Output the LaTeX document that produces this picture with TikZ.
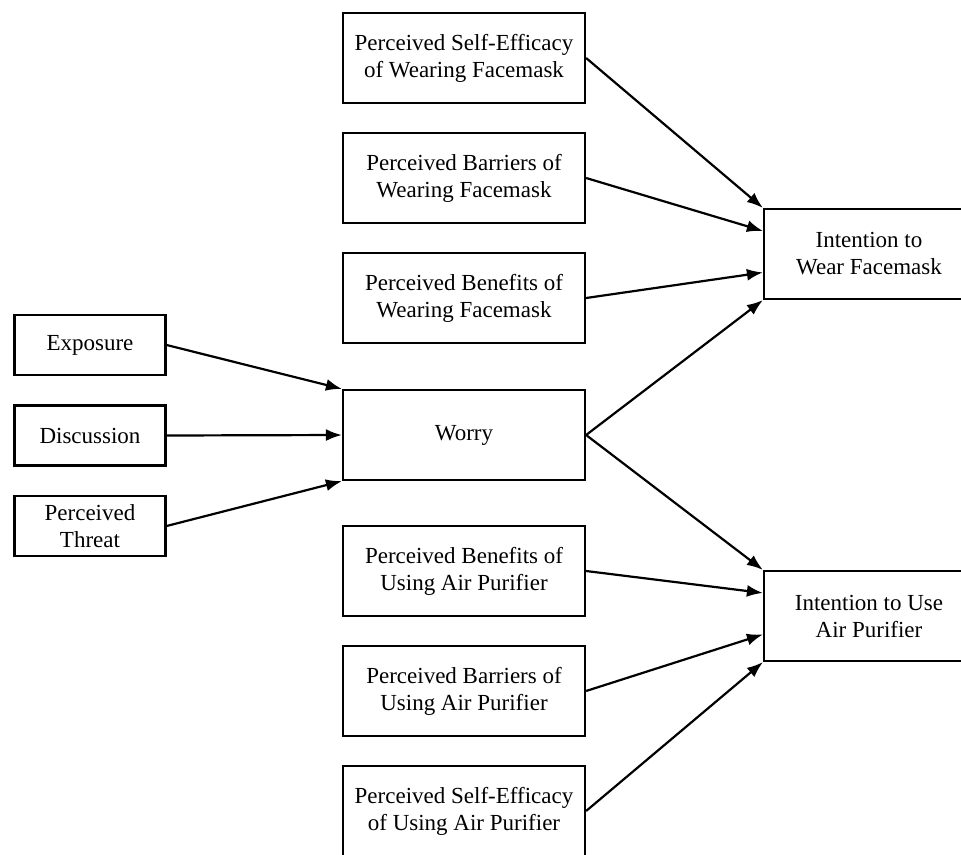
\documentclass[tikz,border=0pt]{standalone}
\usepackage{fontspec}
\setmainfont{Liberation Serif}
\usetikzlibrary{arrows.meta,calc}

\tikzset{
  factor/.style={draw,line width=2.2pt,align=center,inner sep=0pt,
    minimum width=242pt,minimum height=90pt,
    font=\fontsize{23}{27}\selectfont},
  small/.style={factor,minimum width=151pt,minimum height=60pt},
  path/.style={line width=2.2pt,-{Latex[length=16pt,width=12pt]}}
}

\begin{document}
\begin{tikzpicture}[x=1pt,y=-1pt]
\useasboundingbox (0,0) rectangle (961,854);

\node[small] (exp) at (90,345) {Exposure};
\node[small] (disc) at (90,435.5) {Discussion};
\node[small] (threat) at (90,526) {Perceived\\Threat};

\node[factor] (worry) at (464,435) {Worry};

\node[factor] (sefm) at (464,58) {Perceived Self-Efficacy\\of Wearing Facemask};
\node[factor] (barfm) at (464,178) {Perceived Barriers of\\Wearing Facemask};
\node[factor] (benfm) at (464,298) {Perceived Benefits of\\Wearing Facemask};

\node[factor] (benap) at (464,571) {Perceived Benefits of\\Using Air Purifier};
\node[factor] (barap) at (464,691) {Perceived Barriers of\\Using Air Purifier};
\node[factor] (seap) at (464,811) {Perceived Self-Efficacy\\of Using Air Purifier};

\node[factor,minimum width=210pt] (intfm) at (869,254) {Intention to\\Wear Facemask};
\node[factor,minimum width=210pt] (intap) at (869,616) {Intention to Use\\Air Purifier};

% inputs of worry
\draw[path] (exp.east) -- (worry.north west);
\draw[path] (disc.east) -- (worry.west);
\draw[path] (threat.east) -- (worry.south west);

% facemask
\coordinate (fm1) at ($(intfm.north west)!0.25!(intfm.south west)$);
\coordinate (fm2) at ($(intfm.north west)!0.7!(intfm.south west)$);
\draw[path] (sefm.east) -- (intfm.north west);
\draw[path] (barfm.east) -- (fm1);
\draw[path] (benfm.east) -- (fm2);
\draw[path] (worry.east) -- (intfm.south west);

% air purifier
\coordinate (ap1) at ($(intap.north west)!0.25!(intap.south west)$);
\coordinate (ap2) at ($(intap.north west)!0.7!(intap.south west)$);
\draw[path] (worry.east) -- (intap.north west);
\draw[path] (benap.east) -- (ap1);
\draw[path] (barap.east) -- (ap2);
\draw[path] (seap.east) -- (intap.south west);
\end{tikzpicture}
\end{document}
